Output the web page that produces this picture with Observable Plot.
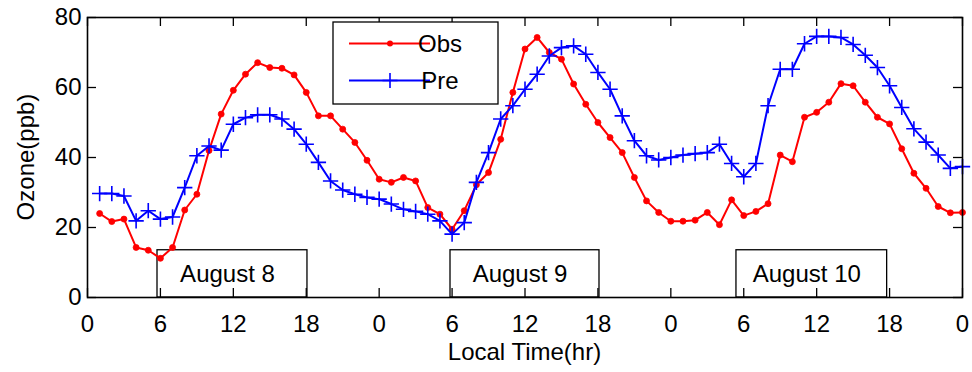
<!DOCTYPE html>
<html>
<head>
<meta charset="utf-8">
<script src="https://cdn.jsdelivr.net/npm/d3@7"></script>
<script src="https://cdn.jsdelivr.net/npm/@observablehq/plot@0.6"></script>
<style>
  html, body { margin: 0; padding: 0; background: #fff; }
</style>
</head>
<body>
<div id="chart"></div>
<script>
// ---- data ----
const hours = [1,2,3,4,5,6,7,8,9,10,11,12,13,14,15,16,17,18,19,20,21,22,23,24,
  25,26,27,28,29,30,31,32,33,34,35,36,37,38,39,40,41,42,43,44,45,46,47,48,
  49,50,51,52,53,54,55,56,57,58,59,60,61,62,63,64,65,66,67,68,69,70,71,72];
const obs = [24.0,21.7,22.4,14.3,13.5,11.2,14.3,25.0,29.5,42.0,52.4,59.2,63.8,67.1,65.7,65.5,63.6,58.6,51.9,51.9,48.1,44.3,39.2,33.8,
  32.9,34.3,33.3,25.7,23.8,19.5,24.8,32.2,35.7,45.2,58.6,71.0,74.3,70.0,68.1,61.0,55.2,50.0,45.7,41.4,34.3,27.6,24.3,21.8,
  21.8,22.1,24.3,20.8,27.9,23.4,24.6,26.8,40.7,38.8,51.5,52.9,55.8,61.1,60.5,55.8,51.5,49.6,42.5,35.5,31.2,26.0,24.2,24.3];
const pre = [29.7,29.7,29.0,21.9,24.8,22.4,23.0,31.4,40.5,43.3,42.1,49.5,51.4,52.2,52.2,51.0,48.1,43.8,38.6,33.3,30.7,29.5,28.6,28.1,
  26.7,25.2,24.6,23.8,21.9,18.1,21.4,32.9,41.4,51.0,54.8,59.5,63.8,69.0,71.4,71.9,69.5,64.3,59.5,51.9,44.8,40.5,39.3,40.0,
  40.7,41.1,41.4,43.8,38.3,34.5,38.3,54.8,65.2,65.2,72.5,74.6,74.6,74.3,72.3,69.2,65.7,60.5,54.3,48.2,44.4,40.7,36.9,37.4];
const seriesNames = ["Obs", "Pre"];
const xTicks = [0,6,12,18,24,30,36,42,48,54,60,66,72];
const xTickLabels = ["0","6","12","18","0","6","12","18","0","6","12","18","0"];
const yTicks = [0,20,40,60,80];
const dayLabels = ["August 8", "August 9", "August 10"];
const dayStart = [5.76, 29.87, 53.4];
const dayEnd = [18.1, 42.13, 65.8];
const dayBoxTop = 13.5;
const xLabel = "Local Time(hr)";
const yLabel = "Ozone(ppb)";

// ---- tables built from the arrays ----
const obsData = hours.map((h, i) => ({h, v: obs[i]}));
const preData = hours.map((h, i) => ({h, v: pre[i]}));
const days = dayLabels.map((label, i) => ({label, start: dayStart[i], end: dayEnd[i]}));

// ---- layout ----
const W = 972, H = 372;
const ml = 87, mr = 10, mt = 17, mb = 75;
const innerW = W - ml - mr, innerH = H - mt - mb;
const FONT = "'Liberation Sans', Arial, Helvetica, sans-serif";
const RED = "#ff0000", BLUE = "#0000ff";
const TL = 9; // inward tick length

const chart = Plot.plot({
  width: W, height: H,
  marginLeft: ml, marginRight: mr, marginTop: mt, marginBottom: mb,
  style: {fontFamily: FONT, fontSize: "24px", background: "#fff", color: "#000", overflow: "visible"},
  x: {domain: [0, 72]},
  y: {domain: [0, 80]},
  marks: [
    Plot.rect(days, {x1: "start", x2: "end", y1: 0, y2: dayBoxTop, fill: "#fff", stroke: "#000", strokeWidth: 1.3}),
    Plot.text(days, {x: d => (d.start + d.end) / 2, y: dayBoxTop / 2, text: "label", dx: -5, fontSize: 24, fill: "#000"}),
    Plot.line(obsData, {x: "h", y: "v", stroke: RED, strokeWidth: 2}),
    Plot.dot(obsData, {x: "h", y: "v", r: 3, fill: RED, stroke: RED, strokeWidth: 0.8}),
    Plot.line(preData, {x: "h", y: "v", stroke: BLUE, strokeWidth: 2}),
    Plot.dot(preData, {x: "h", y: "v", symbol: "plus", r: 5, stroke: BLUE, strokeWidth: 1.6, fill: "none"}),
    Plot.frame({stroke: "#000", strokeWidth: 1.6}),
    Plot.tickX(xTicks, {x: d => d, insetTop: innerH - TL, stroke: "#000", strokeWidth: 1.3}),
    Plot.tickX(xTicks, {x: d => d, insetBottom: innerH - TL, stroke: "#000", strokeWidth: 1.3}),
    Plot.tickY(yTicks, {y: d => d, insetRight: innerW - TL, stroke: "#000", strokeWidth: 1.3}),
    Plot.tickY(yTicks, {y: d => d, insetLeft: innerW - TL, stroke: "#000", strokeWidth: 1.3}),
    Plot.axisX({ticks: xTicks, tickSize: 0, tickPadding: 17, tickFormat: d => xTickLabels[xTicks.indexOf(d)], label: null, fontSize: 24}),
    Plot.axisY({ticks: yTicks, tickSize: 0, tickPadding: 6, label: null, fontSize: 24})
  ]
});

const svg = d3.select(chart);
const sx = chart.scale("x"), sy = chart.scale("y");

// axis titles
svg.append("text")
  .attr("transform", `translate(25,${(mt + H - mb) / 2}) rotate(-90)`)
  .attr("text-anchor", "middle").attr("dominant-baseline", "central")
  .attr("font-family", FONT).attr("font-size", 24).attr("fill", "#000")
  .text(yLabel);
svg.append("text")
  .attr("x", ml + innerW / 2).attr("y", 360)
  .attr("text-anchor", "middle")
  .attr("font-family", FONT).attr("font-size", 24).attr("fill", "#000")
  .text(xLabel);

// legend
const lg = svg.append("g").attr("transform", "translate(333,22)");
lg.append("rect").attr("x", 0).attr("y", 0).attr("width", 165).attr("height", 82)
  .attr("fill", "#fff").attr("stroke", "#000").attr("stroke-width", 1.3);
const colors = [RED, BLUE];
seriesNames.forEach((name, i) => {
  const yy = 21.5 + i * 37;
  lg.append("line").attr("x1", 16).attr("x2", 97).attr("y1", yy).attr("y2", yy)
    .attr("stroke", colors[i]).attr("stroke-width", 2);
  if (i === 0) {
    lg.append("circle").attr("cx", 57).attr("cy", yy).attr("r", 3).attr("fill", RED);
  } else {
    lg.append("path").attr("d", `M49.5,${yy}H64.5M57,${yy - 7.5}V${yy + 7.5}`)
      .attr("stroke", BLUE).attr("stroke-width", 1.6).attr("fill", "none");
  }
  lg.append("text").attr("x", 107).attr("y", yy).attr("dominant-baseline", "central")
    .attr("font-family", FONT).attr("font-size", 24).attr("fill", "#000")
    .text(name);
});

document.getElementById("chart").appendChild(chart);
</script>
</body>
</html>
